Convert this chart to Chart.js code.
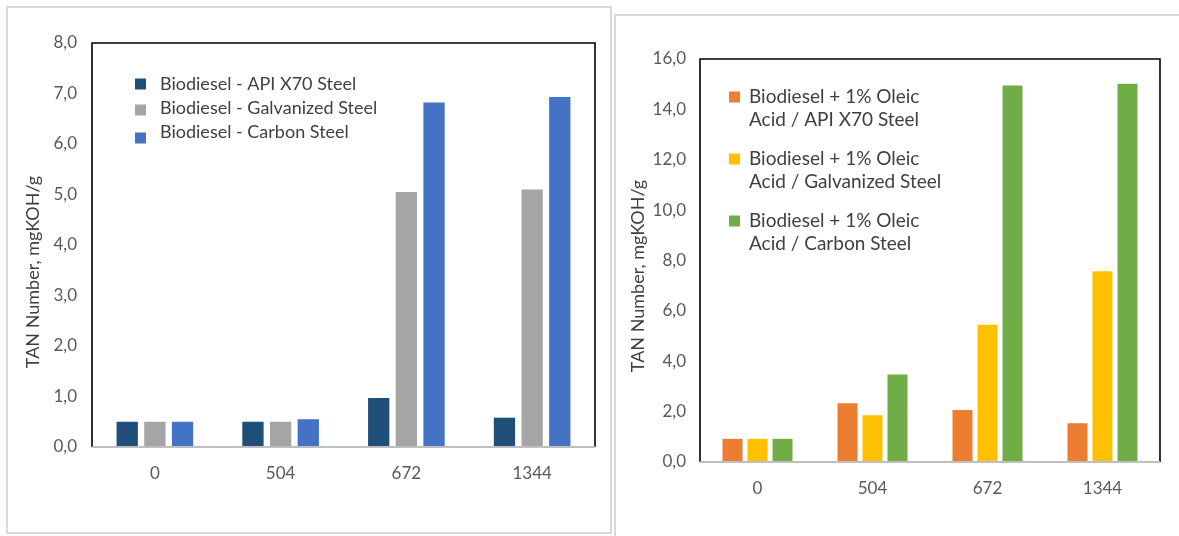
<!DOCTYPE html>
<html>
<head>
<meta charset="utf-8">
<script src="https://cdn.jsdelivr.net/npm/chart.js@4"></script>
<style>
  html, body { margin: 0; padding: 0; background: #fff; width: 1179px; height: 536px; overflow: hidden; position: relative; }
  .panel { position: absolute; box-sizing: border-box; border: 2px solid #d9d9d9; background: #fff; }
  #panelA { left: 6px; top: 6px; width: 606px; height: 528px; }
  #panelB { left: 614px; top: 14px; width: 600px; height: 560px; }
  canvas { position: absolute; }
  #chartA { left: 0; top: 0; }
  #chartB { left: 614px; top: 0; }
</style>
</head>
<body>
<div class="panel" id="panelA"></div>
<div class="panel" id="panelB"></div>
<canvas id="chartA" width="612" height="536" style="width:612px;height:536px"></canvas>
<canvas id="chartB" width="565" height="536" style="width:565px;height:536px"></canvas>
<script>
// Exposure time categories (hours)
const categories = ['0', '504', '672', '1344'];

// TAN values, plain biodiesel (mgKOH/g)
const biodieselApiX70 = [0.50, 0.50, 0.97, 0.58];
const biodieselGalvanized = [0.50, 0.50, 5.05, 5.10];
const biodieselCarbon = [0.50, 0.55, 6.82, 6.93];

// TAN values, biodiesel + 1% oleic acid (mgKOH/g)
const oleicApiX70 = [0.92, 2.33, 2.06, 1.54];
const oleicGalvanized = [0.92, 1.86, 5.45, 7.57];
const oleicCarbon = [0.92, 3.47, 14.95, 15.02];

// Series names (legend lines)
const plainLabels = [
  ['Biodiesel - API X70 Steel'],
  ['Biodiesel - Galvanized Steel'],
  ['Biodiesel - Carbon Steel']
];
const oleicLabels = [
  ['Biodiesel + 1% Oleic', 'Acid / API X70 Steel'],
  ['Biodiesel + 1% Oleic', 'Acid / Galvanized Steel'],
  ['Biodiesel + 1% Oleic', 'Acid / Carbon Steel']
];

const yTitle = 'TAN Number, mgKOH/g';

const FONT = 'Lato, "Noto Sans", sans-serif';
const TICK_COLOR = '#595959';
const TEXT_COLOR = '#404040';

// Black frame on three sides, grey category axis line at the bottom
const plotFrame = {
  id: 'plotFrame',
  afterDatasetsDraw(chart) {
    const { ctx, chartArea: a } = chart;
    ctx.save();
    ctx.strokeStyle = '#000';
    ctx.lineWidth = 1.6;
    ctx.beginPath();
    ctx.moveTo(a.left, a.bottom);
    ctx.lineTo(a.left, a.top);
    ctx.lineTo(a.right, a.top);
    ctx.lineTo(a.right, a.bottom);
    ctx.stroke();
    ctx.strokeStyle = '#bfbfbf';
    ctx.lineWidth = 2;
    ctx.beginPath();
    ctx.moveTo(a.left, a.bottom);
    ctx.lineTo(a.right, a.bottom);
    ctx.stroke();
    ctx.restore();
  }
};

// Legend drawn inside the plot area, with wrapped labels
const boxLegend = {
  id: 'boxLegend',
  afterDraw(chart, args, opts) {
    const { ctx } = chart;
    ctx.save();
    ctx.font = opts.fontSize + 'px ' + FONT;
    ctx.textBaseline = 'middle';
    ctx.textAlign = 'left';
    let y = opts.y;
    chart.data.datasets.forEach((ds, i) => {
      const lines = opts.lines[i];
      ctx.fillStyle = ds.backgroundColor;
      ctx.fillRect(opts.boxX, y - opts.box / 2 + (opts.boxShift[i] || 0), opts.box, opts.box);
      ctx.fillStyle = TEXT_COLOR;
      lines.forEach((ln, k) => ctx.fillText(ln, opts.textX, y + k * opts.lineStep));
      y += opts.itemStep;
    });
    ctx.restore();
  }
};

// Rotated value-axis title
const sideTitle = {
  id: 'sideTitle',
  afterDraw(chart, args, opts) {
    const { ctx } = chart;
    ctx.save();
    ctx.translate(opts.x, opts.y);
    ctx.rotate(-Math.PI / 2);
    ctx.font = opts.fontSize + 'px ' + FONT;
    ctx.fillStyle = TEXT_COLOR;
    ctx.textAlign = 'center';
    ctx.textBaseline = 'middle';
    ctx.fillText(opts.text, 0, 0);
    ctx.restore();
  }
};

const commaFmt = v => v.toFixed(1).replace('.', ',');

function makeChart(id, series, colors, labels, cfg) {
  const datasets = series.map((vals, i) => ({
    label: labels[i].join(' '),
    data: vals,
    backgroundColor: colors[i],
    borderWidth: 0,
    categoryPercentage: cfg.catPct,
    barPercentage: cfg.barPct
  }));
  return new Chart(document.getElementById(id), {
    type: 'bar',
    data: { labels: categories, datasets },
    plugins: [plotFrame, boxLegend, sideTitle],
    options: {
      responsive: false,
      animation: false,
      layout: { padding: { top: cfg.padTop, right: cfg.padRight, left: 0, bottom: 0 } },
      plugins: {
        legend: { display: false },
        tooltip: { enabled: false },
        boxLegend: cfg.legend,
        sideTitle: cfg.title
      },
      scales: {
        x: {
          grid: { display: false, drawTicks: false },
          border: { display: false },
          ticks: { color: TICK_COLOR, font: { family: FONT, size: 17 }, padding: cfg.xTickPad },
          afterFit: s => { s.height = cfg.xHeight; }
        },
        y: {
          min: 0,
          max: cfg.yMax,
          grid: { display: false, drawTicks: false },
          border: { display: false },
          ticks: { stepSize: cfg.yStep, color: TICK_COLOR, font: { family: FONT, size: 17 }, padding: cfg.yTickPad, callback: commaFmt },
          afterFit: s => { s.width = cfg.yWidth; }
        }
      }
    }
  });
}

makeChart('chartA',
  [biodieselApiX70, biodieselGalvanized, biodieselCarbon],
  ['#1f4e79', '#a5a5a5', '#4472c4'],
  plainLabels,
  {
    catPct: 0.66, barPct: 0.77,
    padTop: 43, padRight: 17, xHeight: 89, yWidth: 92,
    yMax: 8, yStep: 1, xTickPad: 16, yTickPad: 15,
    legend: { lines: plainLabels, fontSize: 18, boxX: 135, box: 11, textX: 160, y: 84, itemStep: 24, lineStep: 0, boxShift: [0, 2, 6] },
    title: { text: yTitle, x: 33, y: 272, fontSize: 18 }
  });

makeChart('chartB',
  [oleicApiX70, oleicGalvanized, oleicCarbon],
  ['#ed7d31', '#ffc000', '#70ad47'],
  oleicLabels,
  {
    catPct: 0.652, barPct: 0.8,
    padTop: 59, padRight: 19, xHeight: 74, yWidth: 86,
    yMax: 16, yStep: 2, xTickPad: 16, yTickPad: 14,
    legend: { lines: oleicLabels, fontSize: 19, boxX: 115, box: 11, textX: 135, y: 97, itemStep: 62, lineStep: 23, boxShift: [0, 0, 0] },
    title: { text: yTitle, x: 24, y: 276, fontSize: 18 }
  });
</script>
</body>
</html>
